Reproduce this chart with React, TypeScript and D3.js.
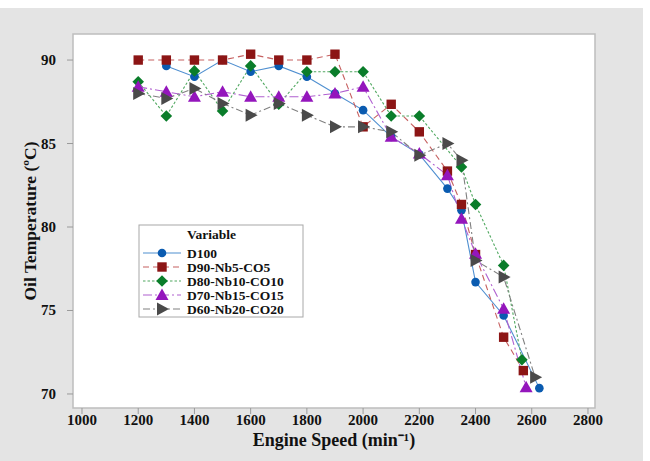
import React from "react";
import * as d3 from "d3";

const xTicks = [1000, 1200, 1400, 1600, 1800, 2000, 2200, 2400, 2600, 2800];
const yTicks = [70, 75, 80, 85, 90];

const d100Speed = [1300, 1400, 1500, 1600, 1700, 1800, 1900, 2000, 2100, 2200, 2300, 2350, 2400, 2500, 2627];
const d100Temp = [89.65, 89.0, 90.0, 89.3, 89.65, 89.0, 88.0, 87.0, 85.4, 84.35, 82.3, 81.0, 76.7, 74.7, 70.35];

const d90Speed = [1200, 1300, 1400, 1500, 1600, 1700, 1800, 1900, 2000, 2100, 2200, 2300, 2350, 2400, 2500, 2570];
const d90Temp = [90.0, 90.0, 90.0, 90.0, 90.35, 90.0, 90.0, 90.35, 86.0, 87.35, 85.7, 83.35, 81.35, 78.35, 73.4, 71.4];

const d80Speed = [1200, 1300, 1400, 1500, 1600, 1700, 1800, 1900, 2000, 2100, 2200, 2350, 2400, 2500, 2565];
const d80Temp = [88.7, 86.65, 89.35, 86.95, 89.65, 87.35, 89.3, 89.3, 89.3, 86.65, 86.65, 83.6, 81.35, 77.7, 72.05];

const d70Speed = [1200, 1300, 1400, 1500, 1600, 1700, 1800, 1900, 2000, 2100, 2200, 2300, 2350, 2400, 2500, 2580];
const d70Temp = [88.4, 88.1, 87.8, 88.1, 87.8, 87.8, 87.8, 88.0, 88.4, 85.4, 84.4, 83.1, 80.5, 78.4, 75.1, 70.4];

const d60Speed = [1200, 1300, 1400, 1500, 1600, 1700, 1800, 1900, 2000, 2100, 2200, 2300, 2350, 2400, 2500, 2612];
const d60Temp = [88.0, 87.7, 88.3, 87.4, 86.7, 87.4, 86.7, 86.0, 86.0, 85.7, 84.3, 85.0, 84.0, 78.0, 77.0, 71.0];

const seriesNames = ["D100", "D90-Nb5-CO5", "D80-Nb10-CO10", "D70-Nb15-CO15", "D60-Nb20-CO20"];

type Shape = "circle" | "square" | "diamond" | "triangle" | "right";

const series = [
  { name: seriesNames[0], xs: d100Speed, ys: d100Temp, color: "#0a5bb0", line: "#4f8fd0", dash: "", shape: "circle" as Shape },
  { name: seriesNames[1], xs: d90Speed, ys: d90Temp, color: "#8c1515", line: "#c66060", dash: "6,4", shape: "square" as Shape },
  { name: seriesNames[2], xs: d80Speed, ys: d80Temp, color: "#0a7d2a", line: "#50a860", dash: "2.5,2", shape: "diamond" as Shape },
  { name: seriesNames[3], xs: d70Speed, ys: d70Temp, color: "#9416bc", line: "#b060d0", dash: "9,3,2,3", shape: "triangle" as Shape },
  { name: seriesNames[4], xs: d60Speed, ys: d60Temp, color: "#4a4a4a", line: "#808080", dash: "7,3,2,3", shape: "right" as Shape },
];

function Marker({ shape, x, y, color }: { shape: Shape; x: number; y: number; color: string }) {
  if (shape === "circle") return <circle cx={x} cy={y} r={4.3} fill={color} />;
  if (shape === "square") return <rect x={x - 4.7} y={y - 4.7} width={9.4} height={9.4} fill={color} />;
  if (shape === "diamond")
    return <path d={`M${x},${y - 5.8}L${x + 5.8},${y}L${x},${y + 5.8}L${x - 5.8},${y}Z`} fill={color} />;
  if (shape === "triangle")
    return <path d={`M${x},${y - 6.5}L${x + 6.5},${y + 5}L${x - 6.5},${y + 5}Z`} fill={color} />;
  return <path d={`M${x + 7},${y}L${x - 5},${y - 6.5}L${x - 5},${y + 6.5}Z`} fill={color} />;
}

export default function App() {
  const W = 650;
  const H = 461;
  const left = 73, right = 595, top = 34, bottom = 408;
  const x = d3.scaleLinear().domain([968, 2825]).range([left, right]);
  const y = d3.scaleLinear().domain([69.16, 91.56]).range([bottom, top]);
  const font = "'Liberation Serif', 'Times New Roman', serif";

  const lineGen = (xs: number[], ys: number[]) =>
    d3.line<number>().x((_, i) => x(xs[i])).y((v) => y(v))(ys) || "";

  const legX = 139, legY = 225, legW = 164, legH = 92;

  return (
    <svg width={W} height={H} style={{ position: "absolute", left: 0, top: 0 }} fontFamily={font}>
      <rect x={0} y={0} width={W} height={H} fill="#ffffff" />
      <rect x={0} y={8} width={643} height={H - 8} fill="#e4e4e4" />
      <rect x={left} y={top} width={right - left} height={bottom - top} fill="#ffffff" stroke="#bdbdbd" strokeWidth={1.5} />

      {xTicks.map((t) => (
        <g key={"x" + t}>
          <line x1={x(t)} x2={x(t)} y1={bottom} y2={bottom + 6} stroke="#9a9a9a" />
          <text x={x(t)} y={425} textAnchor="middle" fontSize={15} fontWeight="bold" fill="#111">
            {t}
          </text>
        </g>
      ))}
      {yTicks.map((t) => (
        <g key={"y" + t}>
          <line x1={left - 6} x2={left} y1={y(t)} y2={y(t)} stroke="#9a9a9a" />
          <text x={56} y={y(t) + 5} textAnchor="end" fontSize={15} fontWeight="bold" fill="#111">
            {t}
          </text>
        </g>
      ))}

      <text x={(left + right) / 2} y={446} textAnchor="middle" fontSize={18} fontWeight="bold" fill="#111">
        Engine Speed (min⁻¹)
      </text>
      <text
        transform={`translate(36,${(top + bottom) / 2}) rotate(-90)`}
        textAnchor="middle"
        fontSize={17.5}
        fontWeight="bold"
        fill="#111"
      >
        Oil Temperature (ºC)
      </text>

      {series.map((s) => (
        <path key={"l" + s.name} d={lineGen(s.xs, s.ys)} fill="none" stroke={s.line} strokeWidth={1.1} strokeDasharray={s.dash} />
      ))}
      {series.map((s) =>
        s.ys.map((v, i) => <Marker key={s.name + i} shape={s.shape} x={x(s.xs[i])} y={y(v)} color={s.color} />)
      )}

      <rect x={legX} y={legY} width={legW} height={legH} fill="#ffffff" stroke="#a8a8a8" strokeWidth={1} />
      <text x={187} y={legY + 14} fontSize={13.5} fontWeight="bold" fill="#111">
        Variable
      </text>
      {series.map((s, i) => {
        const cy = legY + 28 + i * 14;
        return (
          <g key={"lg" + s.name}>
            <line x1={143} x2={181} y1={cy} y2={cy} stroke={s.line} strokeWidth={1.1} strokeDasharray={s.dash} />
            <Marker shape={s.shape} x={162} y={cy} color={s.color} />
            <text x={187} y={cy + 4.5} fontSize={13.5} fontWeight="bold" fill="#111">
              {s.name}
            </text>
          </g>
        );
      })}
    </svg>
  );
}
